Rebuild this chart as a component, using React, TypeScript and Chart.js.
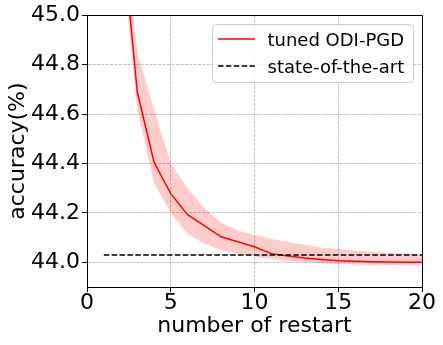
import React, { useEffect, useRef } from "react";
import { Chart, registerables } from "chart.js";

Chart.register(...registerables);

const restarts = [1, 2, 3, 4, 5, 6, 7, 8, 9, 10, 11, 12, 13, 14, 15, 16, 17, 18, 19, 20];
const meanAcc = [46.5, 45.4, 44.69, 44.405, 44.278, 44.193, 44.148, 44.103, 44.083, 44.063, 44.035, 44.025, 44.017, 44.011, 44.006, 44.004, 44.002, 44.001, 44.0, 44.0];
const upperAcc = [47.5, 45.5, 44.85, 44.62, 44.4, 44.3, 44.22, 44.16, 44.13, 44.11, 44.095, 44.082, 44.07, 44.06, 44.054, 44.048, 44.043, 44.038, 44.035, 44.032];
const lowerAcc = [45.5, 45.3, 44.62, 44.32, 44.2, 44.115, 44.075, 44.05, 44.035, 44.022, 44.012, 44.005, 44.0, 43.996, 43.993, 43.991, 43.99, 43.989, 43.988, 43.988];
const sotaX = [1, 20];
const sotaValue = 44.03;
const xTicks = [0, 5, 10, 15, 20];
const yTicks = [44.0, 44.2, 44.4, 44.6, 44.8, 45.0];
const seriesLabels = ["tuned ODI-PGD", "state-of-the-art"];
const xTitle = "number of restart";
const yTitle = "accuracy(%)";

const FONT = "'DejaVu Sans', sans-serif";

const framePlugin = {
  id: "frameAndLegend",
  afterDraw(chart: any) {
    const { ctx, chartArea } = chart;
    const { left, right, top, bottom } = chartArea;
    ctx.save();
    ctx.strokeStyle = "#000";
    ctx.lineWidth = 1;
    ctx.setLineDash([]);
    ctx.beginPath();
    ctx.moveTo(Math.round(left) + 0.5, Math.round(top) + 0.5);
    ctx.lineTo(Math.round(right) + 0.5, Math.round(top) + 0.5);
    ctx.lineTo(Math.round(right) + 0.5, Math.round(bottom) + 0.5);
    ctx.stroke();

    const bw = 201;
    const bh = 58;
    const bx = Math.round(right - 9 - bw) + 0.5;
    const by = Math.round(top + 9) + 0.5;
    ctx.beginPath();
    (ctx as any).roundRect(bx, by, bw, bh, 4);
    ctx.fillStyle = "rgba(255,255,255,0.8)";
    ctx.fill();
    ctx.strokeStyle = "#cccccc";
    ctx.lineWidth = 1;
    ctx.stroke();

    const lx0 = bx + 5.5;
    const lx1 = lx0 + 37;
    const row1 = by + 14.5;
    const row2 = by + 41.5;
    ctx.lineWidth = 1.5;
    ctx.strokeStyle = "#ff0000";
    ctx.beginPath();
    ctx.moveTo(lx0, row1);
    ctx.lineTo(lx1, row1);
    ctx.stroke();
    ctx.strokeStyle = "#000";
    ctx.setLineDash([5.5, 2.4]);
    ctx.beginPath();
    ctx.moveTo(lx0, row2);
    ctx.lineTo(lx1, row2);
    ctx.stroke();
    ctx.setLineDash([]);

    ctx.fillStyle = "#000";
    ctx.font = "18px " + FONT;
    ctx.textAlign = "left";
    ctx.textBaseline = "alphabetic";
    ctx.fillText(seriesLabels[0], bx + 55, by + 21.5);
    ctx.fillText(seriesLabels[1], bx + 55, by + 48.5);
    ctx.restore();
  },
};

const gridOpts = {
  color: "#b0b0b0",
  lineWidth: 0.8,
  tickColor: "#000",
  tickBorderDash: [],
  tickLength: 5,
  tickWidth: 1,
};

const borderOpts = { display: true, color: "#000", width: 1, dash: [3, 1.4] };

export default function App() {
  const ref = useRef<HTMLCanvasElement | null>(null);
  useEffect(() => {
    document.body.style.margin = "0";
    const canvas = ref.current;
    if (!canvas) return;
    Chart.defaults.font.family = FONT;
    Chart.defaults.color = "#000";
    const chart = new Chart(canvas, {
      type: "line",
      data: {
        datasets: [
          {
            label: seriesLabels[1],
            data: sotaX.map((x) => ({ x, y: sotaValue })),
            borderColor: "#000",
            borderWidth: 1.5,
            borderDash: [5.5, 2.4],
            pointRadius: 0,
            fill: false,
          },
          {
            label: seriesLabels[0],
            data: restarts.map((x, i) => ({ x, y: meanAcc[i] })),
            borderColor: "#ff0000",
            borderWidth: 1.5,
            pointRadius: 0,
            fill: false,
            tension: 0,
          },
          {
            label: "upper",
            data: restarts.map((x, i) => ({ x, y: upperAcc[i] })),
            borderWidth: 0,
            borderColor: "rgba(255,0,0,0)",
            backgroundColor: "rgba(255,0,0,0.2)",
            pointRadius: 0,
            fill: "+1",
          },
          {
            label: "lower",
            data: restarts.map((x, i) => ({ x, y: lowerAcc[i] })),
            borderWidth: 0,
            borderColor: "rgba(255,0,0,0)",
            pointRadius: 0,
            fill: false,
          },
        ],
      },
      options: {
        responsive: false,
        animation: false,
        devicePixelRatio: 1,
        layout: { padding: { top: 15, right: 21, left: 0, bottom: 0 } },
        plugins: {
          legend: { display: false },
          tooltip: { enabled: false },
        },
        scales: {
          x: {
            type: "linear",
            min: 0,
            max: 20,
            afterBuildTicks: (s: any) => {
              s.ticks = xTicks.map((v) => ({ value: v }));
            },
            afterFit: (s: any) => {
              s.height = 58;
            },
            ticks: {
              font: { size: 22, lineHeight: 1 },
              padding: 0,
              color: "#000",
              maxRotation: 0,
              callback: (v: any) => String(v),
            },
            grid: gridOpts,
            border: borderOpts,
            title: {
              display: true,
              text: xTitle,
              font: { size: 22 },
              color: "#000",
              padding: { top: 0, bottom: 6 },
            },
          },
          y: {
            type: "linear",
            min: 43.9,
            max: 45.0,
            afterBuildTicks: (s: any) => {
              s.ticks = yTicks.map((v) => ({ value: v }));
            },
            afterFit: (s: any) => {
              s.width = 87;
            },
            ticks: {
              font: { size: 22 },
              padding: 2,
              color: "#000",
              callback: (v: any) => Number(v).toFixed(1),
            },
            grid: gridOpts,
            border: borderOpts,
            title: {
              display: true,
              text: yTitle,
              font: { size: 22 },
              color: "#000",
              padding: { top: 5, bottom: 0 },
            },
          },
        },
      },
      plugins: [framePlugin],
    } as any);
    return () => chart.destroy();
  }, []);
  return (
    <div style={{ width: 443, height: 345 }}>
      <canvas ref={ref} width={443} height={345} style={{ display: "block" }} />
    </div>
  );
}
